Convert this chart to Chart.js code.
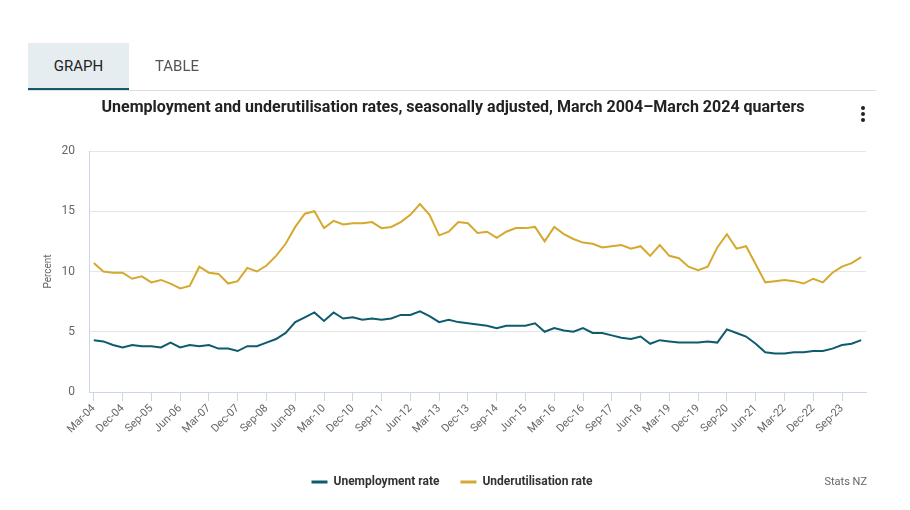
<!DOCTYPE html>
<html><head><meta charset="utf-8">
<script src="https://cdn.jsdelivr.net/npm/chart.js@4/dist/chart.umd.min.js"></script>
<style>
html,body{margin:0;padding:0;background:#fff;width:910px;height:510px;overflow:hidden;font-family:Roboto,"Open Sans",sans-serif;}
#wrap{position:relative;width:910px;height:510px;}
#c{position:absolute;left:0;top:0;}
.tab{position:absolute;top:43px;height:45px;line-height:47px;font-size:15px;text-align:center;}
#tg{left:28px;width:101px;background:#e5edf1;border-bottom:3px solid #0f5b6e;color:#222;}
#tt{left:132px;width:90px;color:#555;}
#rule{position:absolute;left:28px;top:90px;width:848px;height:1px;background:#dedede;}
#title{position:absolute;left:0;width:906px;top:97px;text-align:center;font-weight:bold;font-size:16px;color:#222;}
#kebab{position:absolute;left:861px;top:106px;width:4px;}
#kebab i{display:block;width:4px;height:4px;border-radius:2px;background:#222;margin-bottom:2px;}
#src{position:absolute;right:43px;top:475px;font-size:11px;color:#666;}
</style></head>
<body><div id="wrap">
<canvas id="c" width="910" height="510"></canvas>
<div class="tab" id="tg">GRAPH</div>
<div class="tab" id="tt">TABLE</div>
<div id="rule"></div>
<div id="title">Unemployment and underutilisation rates, seasonally adjusted, March 2004–March 2024 quarters</div>
<div id="kebab"><i></i><i></i><i></i></div>
<div id="src">Stats NZ</div>
</div>
<script>
const quarterMonths = ['Mar','Jun','Sep','Dec'];
const firstYear = 2004;
const quarters = [];
for (let i = 0; i < 81; i++) {
  const y = firstYear + Math.floor(i / 4);
  quarters.push(quarterMonths[i % 4] + '-' + String(y % 100).padStart(2, '0'));
}
const unemploymentRate = [
  4.3, 4.2, 3.9, 3.7, 3.9, 3.8, 3.8, 3.7, 4.1, 3.7,
  3.9, 3.8, 3.9, 3.6, 3.6, 3.4, 3.8, 3.8, 4.1, 4.4,
  4.9, 5.8, 6.2, 6.6, 5.9, 6.6, 6.1, 6.2, 6.0, 6.1,
  6.0, 6.1, 6.4, 6.4, 6.7, 6.3, 5.8, 6.0, 5.8, 5.7,
  5.6, 5.5, 5.3, 5.5, 5.5, 5.5, 5.7, 5.0, 5.3, 5.1,
  5.0, 5.3, 4.9, 4.9, 4.7, 4.5, 4.4, 4.6, 4.0, 4.3,
  4.2, 4.1, 4.1, 4.1, 4.2, 4.1, 5.2, 4.9, 4.6, 4.0,
  3.3, 3.2, 3.2, 3.3, 3.3, 3.4, 3.4, 3.6, 3.9, 4.0,
  4.3
];
const underutilisationRate = [
  10.7, 10.0, 9.9, 9.9, 9.4, 9.6, 9.1, 9.3, 9.0, 8.6,
  8.8, 10.4, 9.9, 9.8, 9.0, 9.2, 10.3, 10.0, 10.5, 11.3,
  12.3, 13.7, 14.8, 15.0, 13.6, 14.2, 13.9, 14.0, 14.0, 14.1,
  13.6, 13.7, 14.1, 14.7, 15.6, 14.7, 13.0, 13.3, 14.1, 14.0,
  13.2, 13.3, 12.8, 13.3, 13.6, 13.6, 13.7, 12.5, 13.7, 13.1,
  12.7, 12.4, 12.3, 12.0, 12.1, 12.2, 11.9, 12.1, 11.3, 12.2,
  11.3, 11.1, 10.4, 10.1, 10.4, 12.0, 13.1, 11.9, 12.1, 10.6,
  9.1, 9.2, 9.3, 9.2, 9.0, 9.4, 9.1, 9.9, 10.4, 10.7,
  11.2
];
const yTicks = [0, 5, 10, 15, 20];
const labelEvery = 3;

const axisBlue = '#ccd6eb';
new Chart(document.getElementById('c'), {
  type: 'line',
  data: {
    labels: quarters,
    datasets: [
      { label: 'Unemployment rate', data: unemploymentRate, borderColor: '#0f5b6e', backgroundColor: '#0f5b6e', borderWidth: 2, pointRadius: 0, tension: 0 },
      { label: 'Underutilisation rate', data: underutilisationRate, borderColor: '#d5a92f', backgroundColor: '#d5a92f', borderWidth: 2, pointRadius: 0, tension: 0 }
    ]
  },
  options: {
    responsive: false,
    animation: false,
    events: [],
    layout: { padding: { left: 38, right: 44, top: 151, bottom: 12 } },
    plugins: {
      title: { display: false },
      tooltip: { enabled: false },
      legend: {
        position: 'bottom',
        labels: {
          usePointStyle: true, pointStyle: 'line', pointStyleWidth: 16, boxHeight: 12,
          padding: 21, color: '#333',
          generateLabels: chart => chart.data.datasets.map((d, i) => ({
            text: d.label, fillStyle: d.borderColor, strokeStyle: d.borderColor,
            lineWidth: 3, pointStyle: 'line', datasetIndex: i, fontColor: '#333'
          })),
          font: { family: 'Roboto', size: 12, weight: 'bold' }
        }
      }
    },
    scales: {
      x: {
        type: 'category',
        offset: true,
        grid: { offset: false, drawOnChartArea: false, drawTicks: true, tickLength: 9, color: axisBlue },
        border: { color: axisBlue },
        afterBuildTicks: s => { s.ticks = s.ticks.filter(t => t.value % labelEvery === 0); },
        ticks: { autoSkip: false, minRotation: 45, maxRotation: 45, color: '#666', padding: 1, font: { family: 'Roboto', size: 11 } },
        afterFit: s => { s.height = 63; }
      },
      y: {
        min: 0, max: 20,
        afterBuildTicks: s => { s.ticks = yTicks.map(v => ({ value: v })); },
        grid: { color: '#e6e6e6', drawTicks: false },
        border: { color: axisBlue },
        ticks: { color: '#666', padding: 14, font: { family: 'Roboto', size: 12 } },
        title: { display: true, text: 'Percent', color: '#666', font: { family: 'Roboto', size: 10 }, padding: { top: 4, bottom: 4 } },
        afterFit: s => { s.width = 51; }
      }
    }
  }
});
</script>
</body></html>
